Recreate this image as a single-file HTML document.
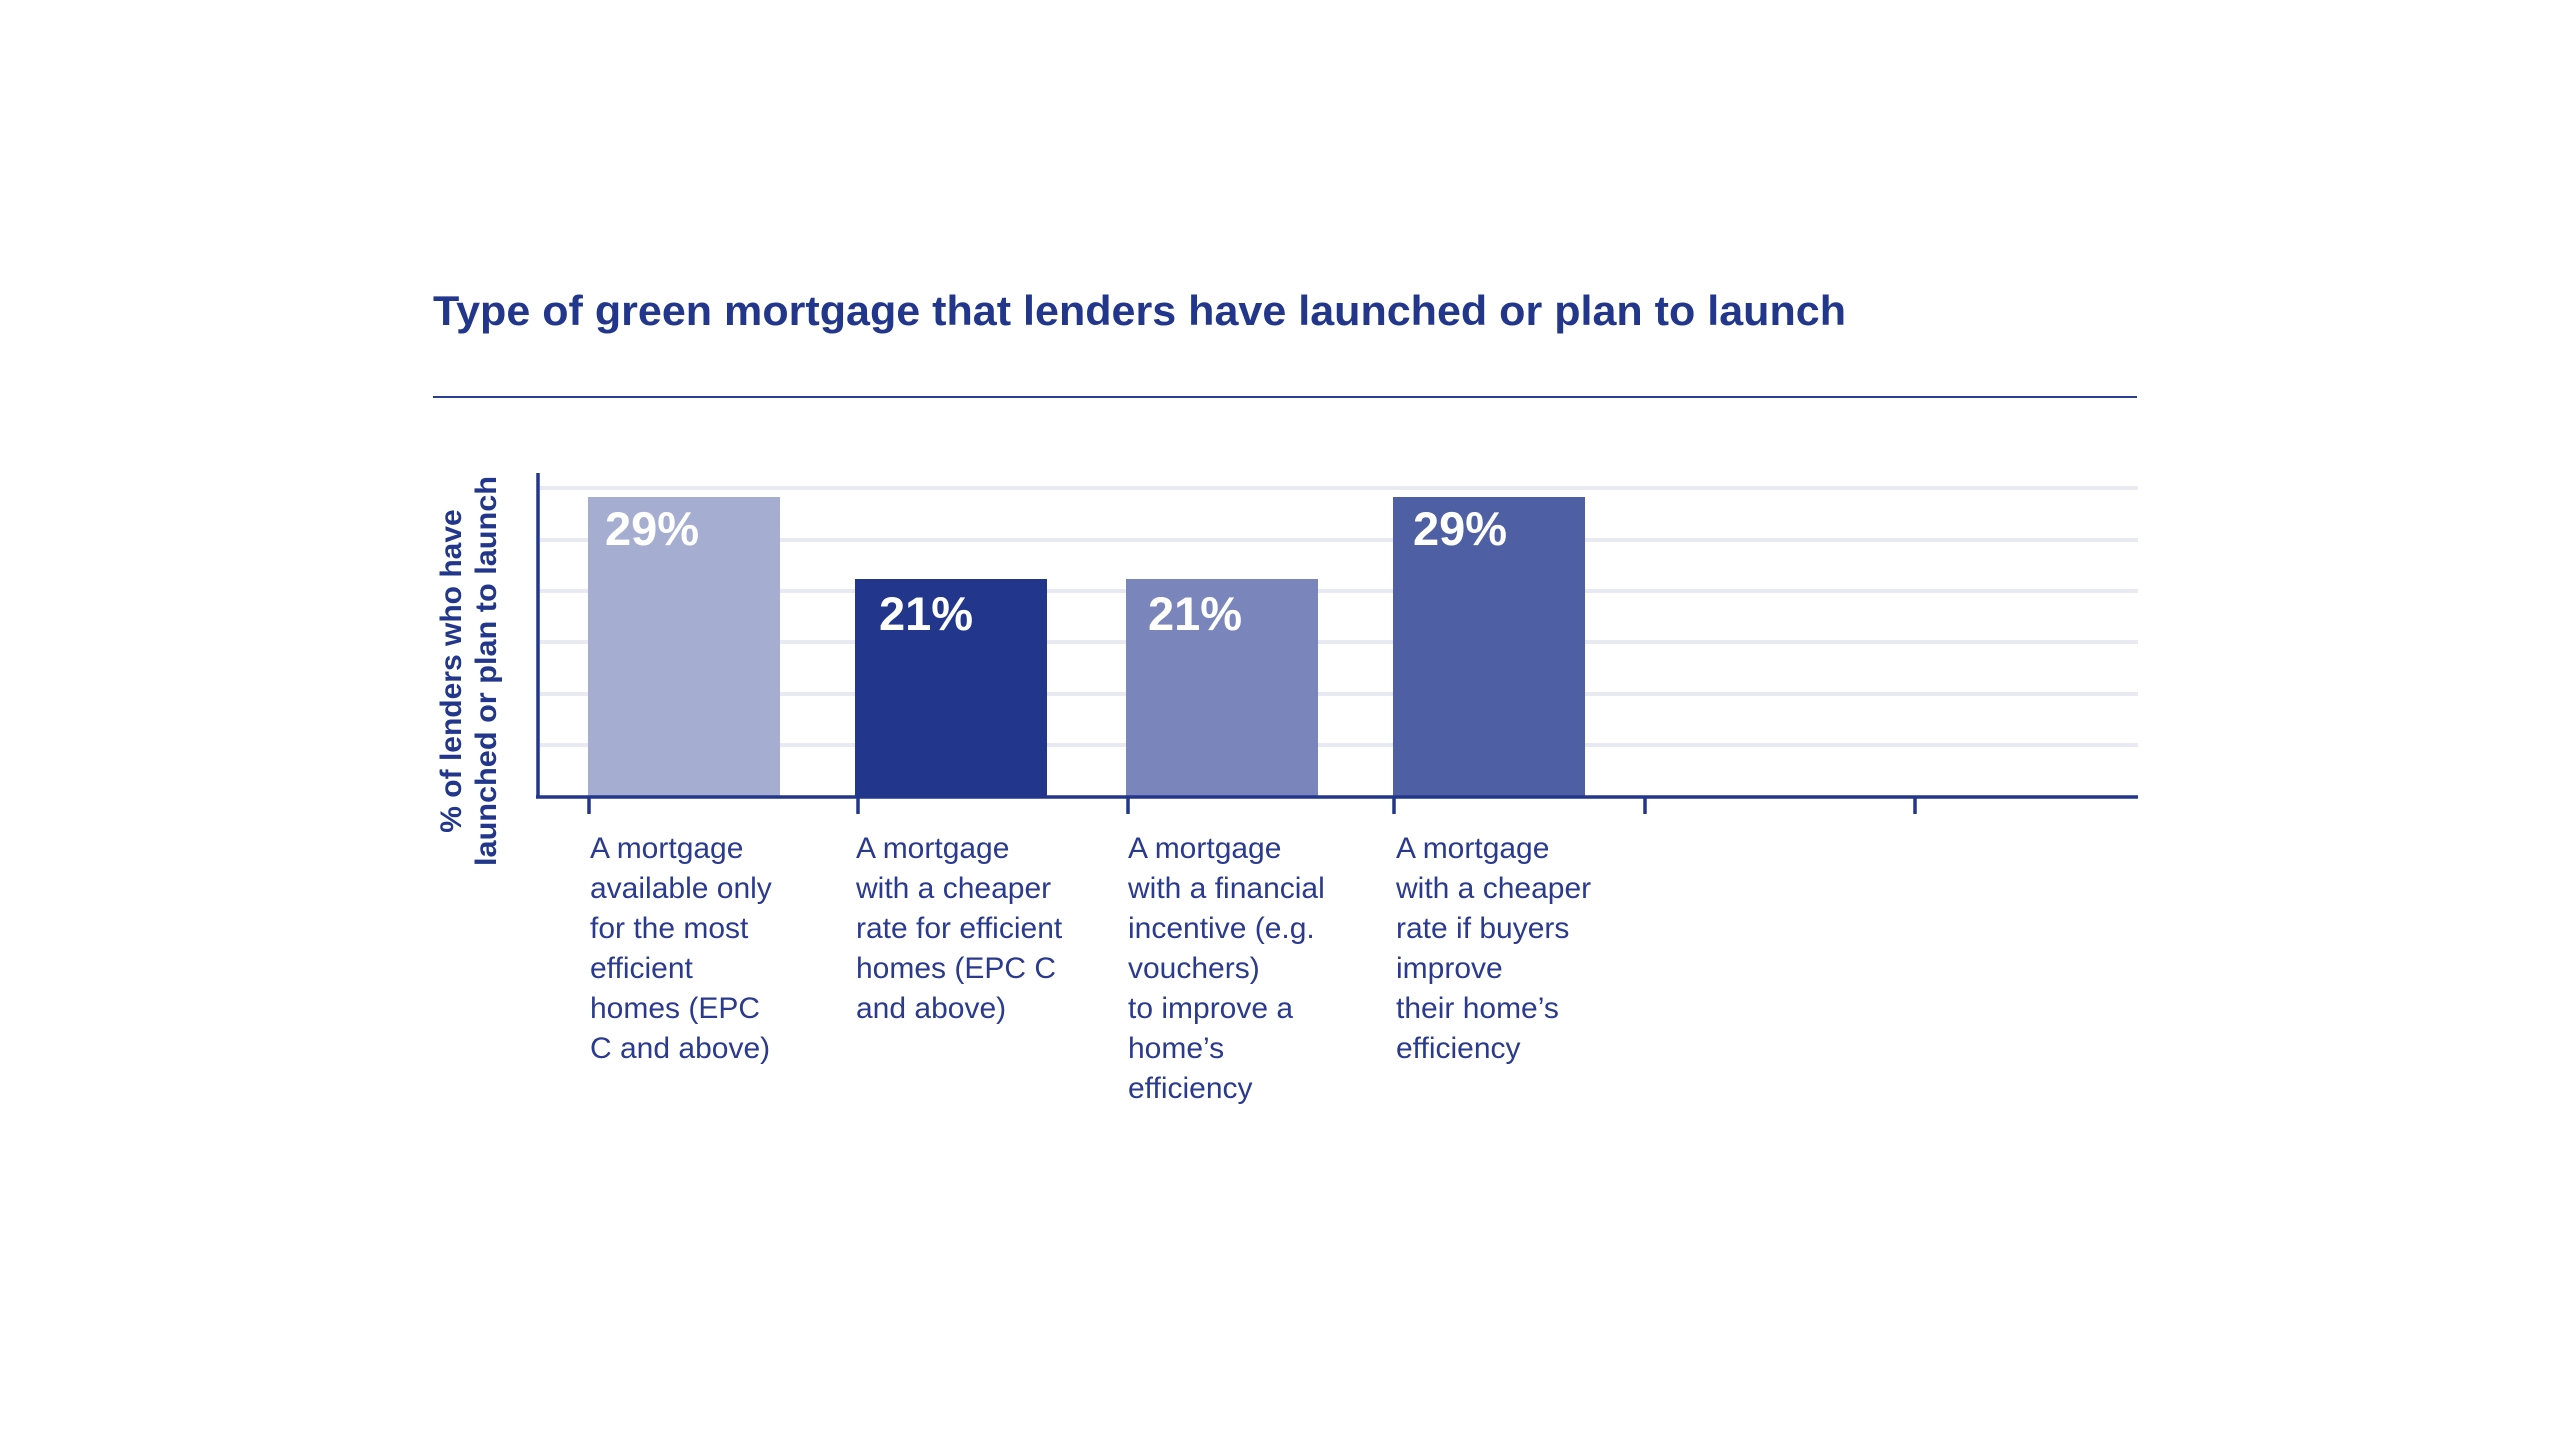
<!DOCTYPE html>
<html><head><meta charset="utf-8"><style>
html,body{margin:0;padding:0;background:#fff;}
svg{display:block;}
</style></head><body>
<svg width="2560" height="1440" viewBox="0 0 2560 1440" xmlns="http://www.w3.org/2000/svg" font-family="Liberation Sans, sans-serif">
<rect width="2560" height="1440" fill="#fff"/>
<text x="433" y="325" font-size="42" font-weight="bold" fill="#22378c" textLength="1413" lengthAdjust="spacingAndGlyphs">Type of green mortgage that lenders have launched or plan to launch</text>
<line x1="433" y1="397" x2="2137" y2="397" stroke="#2a3f94" stroke-width="2"/>
<g stroke="#e9e9f1" stroke-width="4">
<line x1="540" y1="488" x2="2138" y2="488"/>
<line x1="540" y1="540" x2="2138" y2="540"/>
<line x1="540" y1="591" x2="2138" y2="591"/>
<line x1="540" y1="642" x2="2138" y2="642"/>
<line x1="540" y1="694" x2="2138" y2="694"/>
<line x1="540" y1="745" x2="2138" y2="745"/>
</g>
<rect x="588" y="497" width="192" height="300" fill="#a5aed1"/>
<rect x="855" y="579" width="192" height="218" fill="#22378c"/>
<rect x="1126" y="579" width="192" height="218" fill="#7a85bb"/>
<rect x="1393" y="497" width="192" height="300" fill="#4f5fa3"/>
<g font-size="47" font-weight="bold" fill="#fff">
<text x="605" y="545">29%</text>
<text x="879" y="630">21%</text>
<text x="1148" y="630">21%</text>
<text x="1413" y="545">29%</text>
</g>
<g stroke="#22378c" stroke-width="3.5" fill="none">
<line x1="538" y1="473" x2="538" y2="798"/>
<line x1="536" y1="797" x2="2138" y2="797"/>
<line x1="589" y1="797" x2="589" y2="814"/>
<line x1="858" y1="797" x2="858" y2="814"/>
<line x1="1128" y1="797" x2="1128" y2="814"/>
<line x1="1394" y1="797" x2="1394" y2="814"/>
<line x1="1645" y1="797" x2="1645" y2="814"/>
<line x1="1915" y1="797" x2="1915" y2="814"/>
</g>
<g font-size="30" font-weight="bold" fill="#22378c" text-anchor="middle">
<text transform="translate(461,671) rotate(-90)">% of lenders who have</text>
<text transform="translate(496,671) rotate(-90)" textLength="390" lengthAdjust="spacingAndGlyphs">launched or plan to launch</text>
</g>
<g font-size="30" fill="#2a3a8f">
<text x="590" y="858"><tspan x="590">A mortgage</tspan><tspan x="590" dy="40">available only</tspan><tspan x="590" dy="40">for the most</tspan><tspan x="590" dy="40">efficient</tspan><tspan x="590" dy="40">homes (EPC</tspan><tspan x="590" dy="40">C and above)</tspan></text>
<text x="856" y="858"><tspan x="856">A mortgage</tspan><tspan x="856" dy="40">with a cheaper</tspan><tspan x="856" dy="40">rate for efficient</tspan><tspan x="856" dy="40">homes (EPC C</tspan><tspan x="856" dy="40">and above)</tspan></text>
<text x="1128" y="858"><tspan x="1128">A mortgage</tspan><tspan x="1128" dy="40">with a financial</tspan><tspan x="1128" dy="40">incentive (e.g.</tspan><tspan x="1128" dy="40">vouchers)</tspan><tspan x="1128" dy="40">to improve a</tspan><tspan x="1128" dy="40">home’s</tspan><tspan x="1128" dy="40">efficiency</tspan></text>
<text x="1396" y="858"><tspan x="1396">A mortgage</tspan><tspan x="1396" dy="40">with a cheaper</tspan><tspan x="1396" dy="40">rate if buyers</tspan><tspan x="1396" dy="40">improve</tspan><tspan x="1396" dy="40">their home’s</tspan><tspan x="1396" dy="40">efficiency</tspan></text>
</g>
</svg>
</body></html>
